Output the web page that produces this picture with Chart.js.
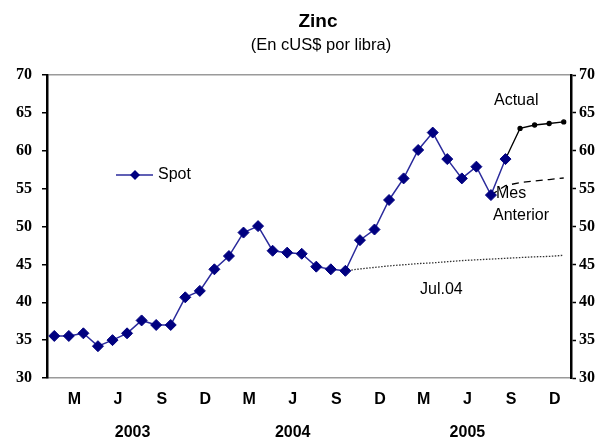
<!DOCTYPE html>
<html>
<head>
<meta charset="utf-8">
<script src="https://cdn.jsdelivr.net/npm/chart.js@4/dist/chart.umd.min.js"></script>
<style>
  html, body { margin: 0; padding: 0; background: #fff; }
  #wrap { width: 604px; height: 438px; position: relative; }
</style>
</head>
<body>
<div id="wrap"><canvas id="zinc"></canvas></div>
<script>
// Zinc - cUS$ per pound, monthly Jan.03 - Dec.05
const months = [
  'Ene.03','Feb.03','Mar.03','Abr.03','May.03','Jun.03','Jul.03','Ago.03','Sep.03','Oct.03','Nov.03','Dic.03',
  'Ene.04','Feb.04','Mar.04','Abr.04','May.04','Jun.04','Jul.04','Ago.04','Sep.04','Oct.04','Nov.04','Dic.04',
  'Ene.05','Feb.05','Mar.05','Abr.05','May.05','Jun.05','Jul.05','Ago.05','Sep.05','Oct.05','Nov.05','Dic.05'
];
const quarterLetters = { 2: 'M', 5: 'J', 8: 'S', 11: 'D' };
const yearTicks = { 6: '2003', 17: '2004', 29: '2005' };

const spot = [
  35.55, 35.55, 35.9, 34.2, 35.0, 35.9, 37.6, 37.0, 37.0, 40.65, 41.5, 44.35,
  46.1, 49.2, 50.05, 46.8, 46.55, 46.4, 44.7, 44.35, 44.15, 48.2, 49.6, 53.5,
  56.35, 60.1, 62.4, 58.9, 56.35, 57.9, 54.15, 58.9
];
// projections (start index, values)
const actualStart = 31;
const actual = [58.9, 62.95, 63.4, 63.6, 63.8];
const mesAnteriorStart = 30;
const mesAnterior = [54.15, 55.4, 55.8, 56.0, 56.2, 56.4];
const jul04Start = 20;
const jul04 = [44.15, 44.4, 44.6, 44.8, 44.95, 45.1, 45.2, 45.35, 45.5, 45.6, 45.7, 45.8, 45.9, 46.0, 46.05, 46.2];

const yTicks = [30, 35, 40, 45, 50, 55, 60, 65, 70];

function place(start, vals) {
  const out = months.map(() => null);
  vals.forEach((v, i) => { out[start + i] = v; });
  return out;
}

const textPlugin = {
  id: 'texts',
  afterDraw(chart) {
    const c = chart.ctx;
    c.save();
    c.fillStyle = '#000';
    c.textAlign = 'center';
    c.textBaseline = 'middle';
    c.font = 'bold 19px "Liberation Sans", Arial, sans-serif';
    c.fillText('Zinc', 318, 22);
    c.font = '16.5px "Liberation Sans", Arial, sans-serif';
    c.fillText('(En cUS$ por libra)', 321, 45);

    c.textAlign = 'left';
    c.font = '16px "Liberation Sans", Arial, sans-serif';
    c.fillText('Actual', 494, 101);
    c.fillText('Mes', 496, 194);
    c.fillText('Anterior', 493, 216);
    c.fillText('Jul.04', 420, 290);

    // legend (Spot)
    c.strokeStyle = '#2b2b9c';
    c.lineWidth = 1.5;
    c.beginPath();
    c.moveTo(116, 175);
    c.lineTo(153, 175);
    c.stroke();
    c.fillStyle = '#000080';
    c.beginPath();
    c.moveTo(135, 170); c.lineTo(140, 175); c.lineTo(135, 180); c.lineTo(130, 175);
    c.closePath();
    c.fill();
    c.fillStyle = '#000';
    c.fillText('Spot', 158, 175);
    c.restore();
  }
};

const tickFont = { family: '"Liberation Serif", "Times New Roman", serif', size: 16, weight: 'bold' };

new Chart(document.getElementById('zinc'), {
  type: 'line',
  data: {
    labels: months,
    datasets: [
      {
        label: 'Spot',
        data: place(0, spot),
        borderColor: '#2b2b9c',
        borderWidth: 1.5,
        pointStyle: 'rectRot',
        pointRadius: 5.5,
        pointBackgroundColor: '#000080',
        pointBorderColor: '#000080',
        pointBorderWidth: 1,
        tension: 0
      },
      {
        label: 'Actual',
        data: place(actualStart, actual),
        borderColor: '#000',
        borderWidth: 1.3,
        pointStyle: 'circle',
        pointRadius: [0, 2, 2, 2, 2].reduce((a, r, i) => { a[actualStart + i] = r; return a; }, months.map(() => 0)),
        pointBackgroundColor: '#000',
        pointBorderColor: '#000',
        tension: 0
      },
      {
        label: 'Mes Anterior',
        data: place(mesAnteriorStart, mesAnterior),
        borderColor: '#000',
        borderWidth: 1.3,
        borderDash: [7, 5],
        pointRadius: 0,
        tension: 0
      },
      {
        label: 'Jul.04',
        data: place(jul04Start, jul04),
        borderColor: '#333',
        borderWidth: 1.3,
        borderDash: [1.5, 1.5],
        pointRadius: 0,
        tension: 0
      }
    ]
  },
  options: {
    responsive: true,
    maintainAspectRatio: false,
    animation: false,
    layout: { padding: { top: 75, left: 0, right: 0, bottom: 0 } },
    plugins: {
      legend: { display: false },
      title: { display: false },
      tooltip: { enabled: false }
    },
    scales: {
      x: {
        offset: true,
        grid: { display: false },
        border: { display: true, color: '#9a9a9a', width: 1.5 },
        ticks: {
          autoSkip: false,
          maxRotation: 0,
          minRotation: 0,
          padding: 5,
          labelOffset: -9,
          color: '#000',
          font: { family: '"Liberation Sans", Arial, sans-serif', size: 16, weight: 'bold', lineHeight: '16.5px' },
          callback: (v, i) => {
            const letter = quarterLetters[i % 12] || '';
            if (yearTicks[i]) return [letter, '', yearTicks[i]];
            return letter;
          }
        },
        afterFit: (s) => { s.height = 60; }
      },
      y: {
        position: 'left',
        min: 30, max: 70,
        afterBuildTicks: (s) => { s.ticks = yTicks.map(v => ({ value: v })); },
        grid: {
          drawOnChartArea: true,
          color: (ctx) => ctx.tick && ctx.tick.value === 70 ? '#9a9a9a' : 'rgba(0,0,0,0)',
          lineWidth: 1.5,
          tickColor: '#000',
          tickLength: 5,
          tickWidth: 1.5
        },
        border: { display: true, color: '#000', width: 2.5 },
        ticks: { color: '#000', font: tickFont, padding: 10 },
        afterFit: (s) => { s.width = 47; }
      },
      y2: {
        position: 'right',
        min: 30, max: 70,
        afterBuildTicks: (s) => { s.ticks = yTicks.map(v => ({ value: v })); },
        grid: { drawOnChartArea: false, tickColor: '#000', tickLength: 5, tickWidth: 1.5 },
        border: { display: true, color: '#000', width: 2.5 },
        ticks: { color: '#000', font: tickFont, padding: 3 },
        afterFit: (s) => { s.width = 33; }
      }
    }
  },
  plugins: [textPlugin]
});
</script>
</body>
</html>
